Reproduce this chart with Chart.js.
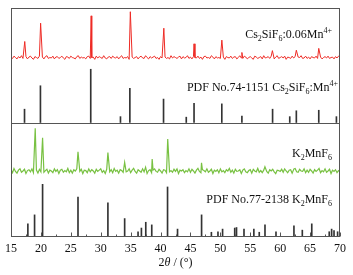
<!DOCTYPE html>
<html>
<head>
<meta charset="utf-8">
<script src="https://cdn.jsdelivr.net/npm/chart.js@4.4.1/dist/chart.umd.min.js"></script>
<style>
	html, body { margin: 0; padding: 0; background: #fff; }
</style>
</head>
<body>
<canvas id="chart-xrd" width="353" height="275"></canvas>
<script>
// 2theta axis
const X_MIN = 15;
const X_MAX = 70;
const X_STEP = 0.25; // spacing of the measured background points
const xTicks = [15, 20, 25, 30, 35, 40, 45, 50, 55, 60, 65, 70];

// measured pattern: Cs2SiF6:0.06Mn4+
const redPeakPos = [17.3, 19.95, 28.4, 34.95, 40.55, 45.6, 50.25, 53.6, 58.7, 62.7, 66.45];
const redPeakInt = [35, 75, 91, 100, 64, 30, 38, 11, 15, 16, 20];
const redNoise = [
	1, -2, 3, 0, -3, 2, -1, 4, -2, 0, 2, -3, 1, 3, -1, -4, 2, 0, -2, 3,
	-1, 1, -3, 2, 4, -2, 0, -1, 3, -3, 1, 2, -2, 0, 3, -1, -4, 2, 1, -2,
	3, 0, -1, -3, 2, 4, -2, 1, -1, 0, -3, 2, 3, -2, 0, 1, -4, 3, -1, 2,
	0, -2, 4, -1, -3, 1, 2, -2, 3, 0, -1, 2, -3, 1, 4, -2, 0, -1, 2, -4,
	3, 1, -2, 0, 2, -3, 1, 3, -1, -2, 4, 0, -3, 2, -1, 1, 3, -2, 0, -4,
	2, -1, 3, 1, -2, 0, -3, 4, -1, 2, 0, -2, 1, 3, -3, 2, -1, 0, 4, -2,
	1, -3, 2, 0, -1, 3, -2, 1, -4, 2, 3, -1, 0, -2, 4, 1, -3, 2, -1, 0,
	-2, 3, 1, -4, 2, 0, -1, 3, -2, 1, 2, -3, 0, 4, -1, -2, 3, 1, -3, 0,
	2, -1, -4, 3, 1, -2, 0, 2, -3, 4, -1, 0, 2, -2, 3, -1, -3, 1, 4, -2,
	0, 2, -1, 3, -4, 1, 0, -2, 3, -1, 2, -3, 1, 0, 4, -2, -1, 3, -2, 1,
	-3, 2, 0, -1, 3, -2, 4, 1, -3, 0, 2, -1, 3, -2, 0, 1, -3, 2, -1, 3,
	0,
];

// reference card PDF No.74-1151 Cs2SiF6:Mn4+
const pdf74Pos = [17.26, 19.92, 28.33, 33.3, 34.87, 40.5, 44.3, 45.6, 50.24, 53.6, 58.73, 61.6, 62.7, 66.45, 69.4];
const pdf74Int = [25, 69, 100, 11, 64, 44, 10, 36, 35, 12, 25, 11, 22, 23, 11];

// measured pattern: K2MnF6
const greenPeakPos = [19.05, 20.28, 26.2, 31.2, 34.0, 37.5, 38.6, 41.2, 46.85, 57.45, 62.3];
const greenPeakInt = [100, 78, 45, 43, 20, 9, 28, 75, 19, 10, 5];
const greenNoise = [
	3, -4, 6, -1, -5, 2, 5, -3, 0, 4, -6, 1, 3, -2, 5, -4, 0, 2, -5, 4,
	-2, 6, -3, 1, 4, -5, 2, 0, -4, 5, -1, 3, -6, 2, 4, -3, 1, -2, 6, -4,
	2, -5, 3, 0, 5, -3, -1, 4, -6, 2, 1, -4, 5, -2, 3, 0, -5, 4, -1, 2,
	5, -3, 1, -6, 4, 0, -2, 3, -4, 6, -1, 2, -5, 3, 1, -3, 4, -2, 0, 5,
	-4, 2, 6, -1, -5, 3, 0, -3, 5, -2, 4, -6, 1, 3, -4, 2, 5, -1, -3, 4,
	0, -5, 3, 2, -4, 6, -2, 1, -3, 4, -1, 5, -6, 2, 0, 3, -4, 1, -2, 5,
	-3, 4, 0, -5, 2, 6, -1, -4, 3, 1, -2, 5, -3, 0, 4, -6, 2, -1, 3, -4,
	5, -2, 1, -4, 3, 0, 6, -3, 2, -5, 4, -1, 0, 3, -6, 2, 5, -2, -4, 1,
	3, -5, 4, 0, -2, 6, -3, 1, -4, 2, 5, -1, -5, 3, 0, 4, -2, -6, 2, 1,
	-1, 4, -3, 5, 0, -4, 2, 3, -5, 1, 6, -2, -3, 4, 0, -1, 5, -4, 2, -3,
	4, 0, -5, 3, -1, 2, 6, -4, 1, -2, 5, -3, 0, 4, -6, 2, -1, 3, -4, 1,
	-2,
];

// reference card PDF No.77-2138 K2MnF6
const pdf77Pos = [17.82, 18.94, 20.28, 26.2, 31.2, 34.0, 36.24, 36.8, 37.53, 38.53, 41.17, 42.84, 46.86, 48.5, 49.6, 50.37, 52.4, 52.7, 53.95, 55.6, 56.5, 57.46, 59.3, 62.3, 63.7, 65.28, 68.2, 68.6, 69.0, 69.6];
const pdf77Int = [25, 42, 100, 76, 65, 35, 10, 17, 28, 23, 95, 15, 42, 9, 10, 15, 17, 18, 15, 15, 9, 23, 10, 21, 13, 25, 10, 15, 12, 10];

// vertical offset / scale of each trace on the shared 0..400 axis
const PANEL_RED = { base: 313.5, scale: 0.8 };
const PANEL_PDF74 = { base: 200, scale: 0.93 };
const PANEL_GREEN = { base: 115.3, scale: 0.746 };
const PANEL_PDF77 = { base: 0, scale: 0.92 };

const FONT = "'Liberation Serif', 'Times New Roman', serif";
const INK = "#111";
const FRAME = "#555";

const patternPoints = (noise, pos, ints, panel) => {
	const pts = noise
		.map((n, i) => ({ x: X_MIN + i * X_STEP, y: panel.base + n * panel.scale }))
		.filter((p) => !pos.some((q) => Math.abs(q - p.x) < 0.06));
	pos.forEach((p, i) => pts.push({ x: p, y: panel.base + ints[i] * panel.scale }));
	return pts.sort((a, b) => a.x - b.x);
};

const stickPoints = (pos, ints, panel) =>
	pos.map((p, i) => ({ x: p, y: [panel.base, panel.base + ints[i] * panel.scale] }));

// text with sub/superscripts, right aligned at anchorX (or centred)
const drawRich = (ctx, parts, anchorX, baseline, align) => {
	const widths = parts.map((p) => {
		ctx.font = (p.italic ? "italic " : "") + (p.sub || p.sup ? 8 : 12) + "px " + FONT;
		return ctx.measureText(p.t).width;
	});
	const total = widths.reduce((a, b) => a + b, 0);
	let x = align === "center" ? anchorX - total / 2 : anchorX - total;
	ctx.fillStyle = INK;
	ctx.textAlign = "left";
	ctx.textBaseline = "alphabetic";
	parts.forEach((p, i) => {
		ctx.font = (p.italic ? "italic " : "") + (p.sub || p.sup ? 8 : 12) + "px " + FONT;
		const dy = p.sub ? 3 : p.sup ? -5 : 0;
		ctx.fillText(p.t, x, baseline + dy);
		x += widths[i];
	});
};

const LABELS = [
	{ right: 332, baseline: 38, parts: [{ t: "Cs" }, { t: "2", sub: true }, { t: "SiF" }, { t: "6", sub: true }, { t: ":0.06Mn" }, { t: "4+", sup: true }] },
	{ right: 338, baseline: 91, parts: [{ t: "PDF No.74-1151 Cs" }, { t: "2", sub: true }, { t: "SiF" }, { t: "6", sub: true }, { t: ":Mn" }, { t: "4+", sup: true }] },
	{ right: 332, baseline: 157, parts: [{ t: "K" }, { t: "2", sub: true }, { t: "MnF" }, { t: "6", sub: true }] },
	{ right: 332, baseline: 203, parts: [{ t: "PDF No.77-2138 K" }, { t: "2", sub: true }, { t: "MnF" }, { t: "6", sub: true }] },
];

const framePlugin = {
	id: "xrdFrame",
	afterDraw(chart) {
		const { ctx, chartArea: a, scales } = chart;
		ctx.save();
		ctx.strokeStyle = FRAME;
		ctx.lineWidth = 1;
		const l = Math.round(a.left) + 0.5;
		const r = Math.round(a.right) - 0.5;
		const t = Math.round(a.top) + 0.5;
		const b = Math.round(a.bottom) - 0.5;
		ctx.strokeRect(l, t, r - l, b - t);
		const mid = Math.round(scales.y.getPixelForValue(200)) + 0.5;
		ctx.beginPath();
		ctx.moveTo(l, mid);
		ctx.lineTo(r, mid);
		// inward ticks, major every 5, minor every 2.5
		for (let v = X_MIN; v <= X_MAX + 0.01; v += 2.5) {
			const px = Math.round(scales.x.getPixelForValue(v)) + 0.5;
			const len = v % 5 === 0 ? 4 : 2;
			ctx.moveTo(px, b);
			ctx.lineTo(px, b - len);
		}
		ctx.stroke();
		LABELS.forEach((lb) => drawRich(ctx, lb.parts, lb.right, lb.baseline, "right"));
		drawRich(ctx, [{ t: "2" }, { t: "\u03b8", italic: true }, { t: " / (\u00b0)" }], (a.left + a.right) / 2, 266, "center");
		ctx.restore();
	},
};

const stickDataset = (pos, ints, panel) => ({
	type: "bar",
	data: stickPoints(pos, ints, panel),
	backgroundColor: "#333",
	borderWidth: 0,
	barThickness: 1,
	grouped: false,
});

const lineDataset = (noise, pos, ints, panel, color, width) => ({
	type: "line",
	data: patternPoints(noise, pos, ints, panel),
	borderColor: color,
	borderWidth: width,
	pointRadius: 0,
	tension: 0,
});

new Chart(document.getElementById("chart-xrd"), {
	type: "line",
	data: {
		datasets: [
			lineDataset(redNoise, redPeakPos, redPeakInt, PANEL_RED, "#ee2a24", 1),
			stickDataset(pdf74Pos, pdf74Int, PANEL_PDF74),
			lineDataset(greenNoise, greenPeakPos, greenPeakInt, PANEL_GREEN, "#78c142", 1.2),
			stickDataset(pdf77Pos, pdf77Int, PANEL_PDF77),
		],
	},
	options: {
		responsive: false,
		animation: false,
		devicePixelRatio: 1,
		layout: {
			padding: { left: 11, right: 13, top: 8, bottom: 0 },
		},
		plugins: {
			legend: { display: false },
			tooltip: { enabled: false },
		},
		scales: {
			x: {
				type: "linear",
				offset: false,
				min: X_MIN,
				max: X_MAX,
				afterBuildTicks: (scale) => {
					scale.ticks = xTicks.map((v) => ({ value: v }));
				},
				// axis band fixed so the plot ends where the reference's does
				afterFit: (scale) => {
					scale.height = 38;
				},
				border: { display: false },
				grid: {
					display: true,
					drawOnChartArea: false,
					drawTicks: true,
					tickLength: 2,
					tickColor: "rgba(0,0,0,0)",
					offset: false,
				},
				ticks: {
					color: INK,
					font: { family: FONT, size: 12 },
					padding: 3,
					maxRotation: 0,
					autoSkip: false,
				},
			},
			y: {
				display: false,
				min: 0,
				max: 400,
			},
		},
	},
	plugins: [framePlugin],
});
</script>
</body>
</html>
